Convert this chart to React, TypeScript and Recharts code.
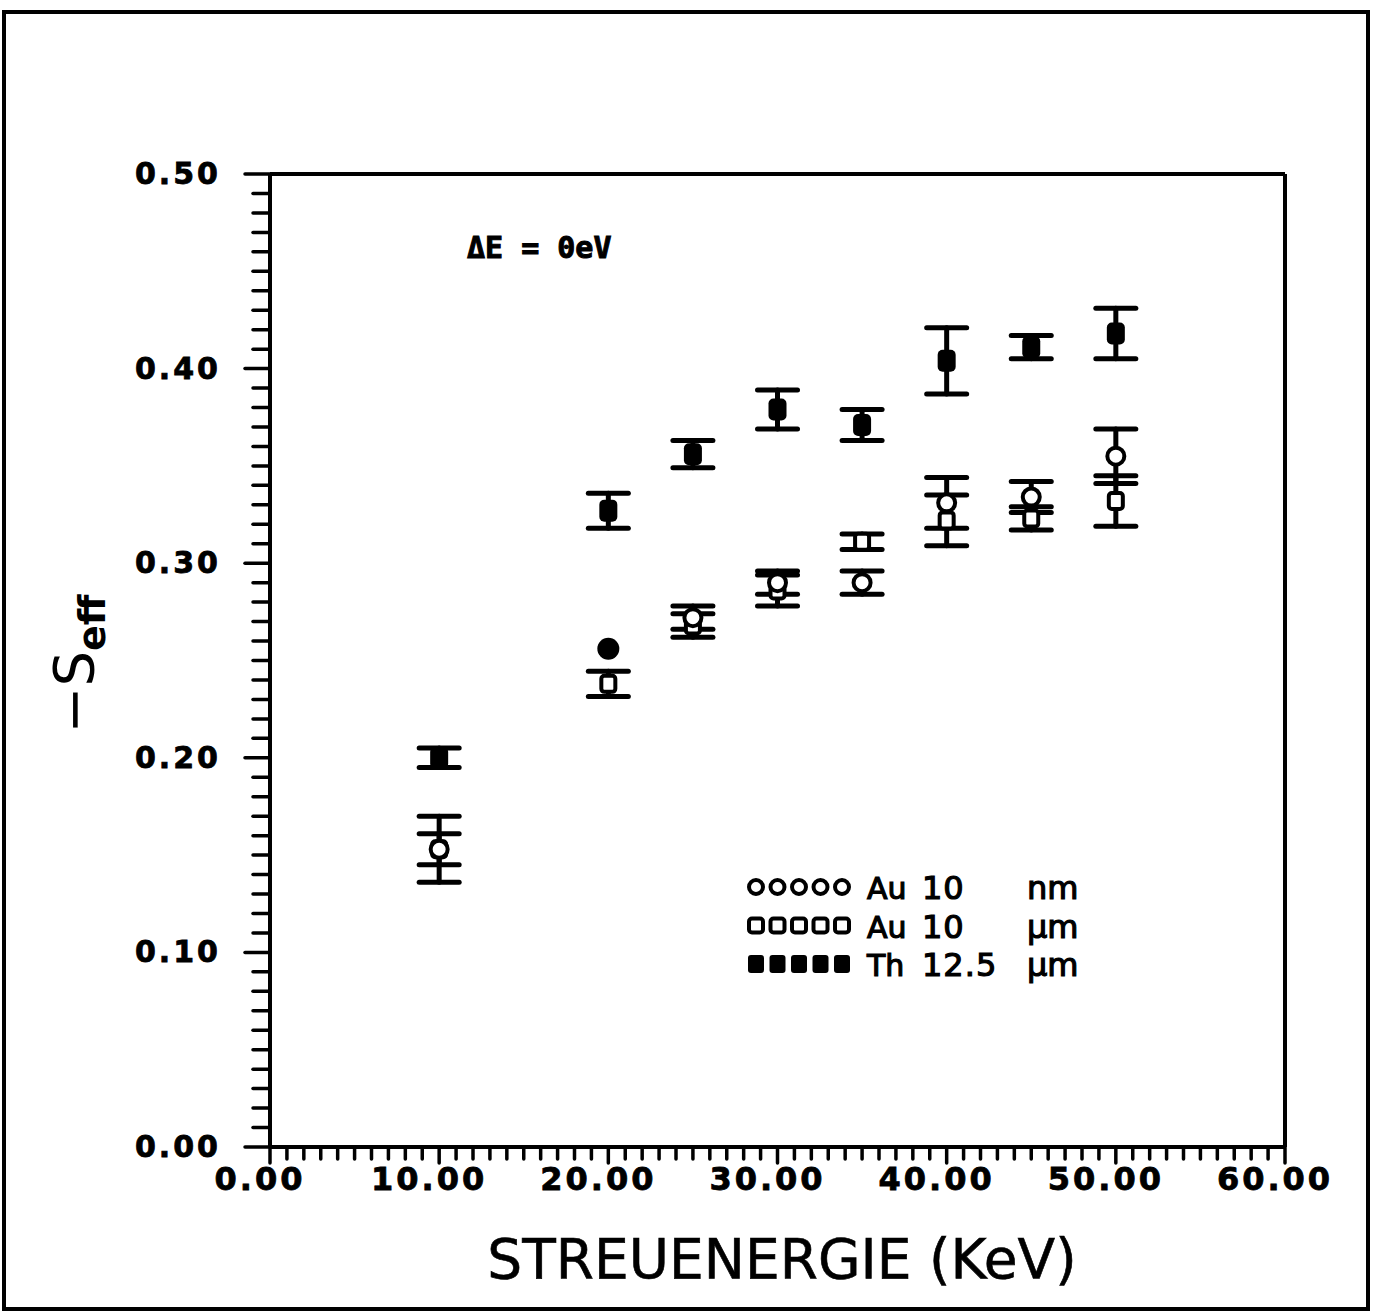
import React from 'react';
import { ScatterChart, Scatter, XAxis, YAxis, ErrorBar, ReferenceLine } from 'recharts';

// --- data ---
const energies = [10, 20, 25, 30, 35, 40, 45, 50];
const thValues = [0.2, 0.327, 0.356, 0.379, 0.371, 0.404, 0.411, 0.418];
const thErrors = [0.005, 0.009, 0.007, 0.010, 0.008, 0.017, 0.006, 0.013];
const auNmValues = [0.153, 0.256, 0.272, 0.29, 0.29, 0.331, 0.334, 0.355];
const auNmErrors = [0.017, null, 0.006, 0.006, 0.006, 0.013, 0.008, 0.014];
const auUmValues = [0.153, 0.238, 0.268, 0.286, 0.311, 0.322, 0.323, 0.332];
const auUmErrors = [0.008, 0.0065, 0.006, 0.008, 0.004, 0.013, 0.006, 0.013];

const xMajorTicks = [0, 10, 20, 30, 40, 50, 60];
const yMajorTicks = [0, 0.1, 0.2, 0.3, 0.4, 0.5];
const xMinorStep = 1;
const yMinorStep = 0.01;

const legendItems = [
  { symbol: 'circle', name: 'Au', value: '10', unit: 'nm' },
  { symbol: 'square', name: 'Au', value: '10', unit: 'μm' },
  { symbol: 'filled', name: 'Th', value: '12.5', unit: 'μm' },
];

const build = (vals: number[], errs: (number | null)[]) =>
  energies.map((x, i) => ({ x, y: vals[i], err: errs[i] }));

const thData = build(thValues, thErrors);
const auNmAll = build(auNmValues, auNmErrors);
const auNmData = auNmAll.filter((d) => d.err != null);
const auNmNoErr = auNmAll.filter((d) => d.err == null);
const auUmData = build(auUmValues, auUmErrors);

const xTicks: number[] = [];
for (let i = 0; i <= 60 / xMinorStep; i++) xTicks.push(i * xMinorStep);
const yTicks: number[] = [];
for (let i = 0; i <= Math.round(0.5 / yMinorStep); i++) yTicks.push(Math.round(i * yMinorStep * 100) / 100);

// --- layout ---
const W = 1379;
const H = 1315;
const PLOT_L = 270;
const PLOT_R = 1285;
const PLOT_T = 174;
const PLOT_B = 1147;
const FONT = '"DejaVu Sans", sans-serif';

const isXMajor = (v: number) => xMajorTicks.some((t) => Math.abs(t - v) < 1e-6);
const isYMajor = (v: number) => yMajorTicks.some((t) => Math.abs(t - v) < 1e-6);

const XTick = (props: any) => {
  const { x, payload } = props;
  const y = PLOT_B;
  const v = payload.value;
  const major = isXMajor(v);
  return (
    <g>
      <line x1={x} x2={x} y1={y} y2={y + (major ? 16 : 12)} stroke="#000" strokeWidth={3.5} strokeLinecap="round" />
      {major && (
        <text x={x - 10} y={y + 43} textAnchor="middle" fontFamily={FONT} fontWeight="bold" fontSize={32} letterSpacing={3} fill="#000" stroke="#000" strokeWidth={0.8}>
          {v.toFixed(2)}
        </text>
      )}
    </g>
  );
};

const YTick = (props: any) => {
  const { y, payload } = props;
  const x = PLOT_L;
  const v = payload.value;
  const major = isYMajor(v);
  return (
    <g>
      <line x1={x} x2={x - (major ? 25 : 17)} y1={y} y2={y} stroke="#000" strokeWidth={3.5} strokeLinecap="round" />
      {major && (
        <text x={x - 49} y={y + 10} textAnchor="end" fontFamily={FONT} fontWeight="bold" fontSize={30} letterSpacing={3} fill="#000" stroke="#000" strokeWidth={0.8}>
          {v.toFixed(2)}
        </text>
      )}
    </g>
  );
};

const FilledSquare = (props: any) => {
  const { cx, cy } = props;
  return <rect x={cx - 9} y={cy - 11} width={18} height={22} rx={5} fill="#000" />;
};
const OpenCircle = (props: any) => {
  const { cx, cy } = props;
  return <circle cx={cx} cy={cy} r={8.5} fill="#fff" stroke="#000" strokeWidth={4} />;
};
const BigCircle = (props: any) => {
  const { cx, cy } = props;
  return <circle cx={cx} cy={cy} r={11} fill="#000" />;
};
const OpenSquare = (props: any) => {
  const { cx, cy } = props;
  return <rect x={cx - 7} y={cy - 8} width={14} height={16} rx={3} fill="#fff" stroke="#000" strokeWidth={4} />;
};

const XTitle = () => (
  <text x={782} y={1278} textAnchor="middle" fontFamily={FONT} fontSize={55} fill="#000" stroke="#000" strokeWidth={0.6}>
    STREUENERGIE (KeV)
  </text>
);

const YTitle = () => (
  <text transform="translate(93,664) rotate(-90)" textAnchor="middle" fontFamily={FONT} fill="#000">
    <tspan fontSize={56}>−S</tspan>
    <tspan fontSize={38} fontWeight="bold" dy={12}>eff</tspan>
  </text>
);

const LegendSymbol = ({ kind }: { kind: string }) => {
  const items = [0, 1, 2, 3, 4];
  return (
    <g>
      {items.map((i) => {
        const cx = 756 + i * 21.5;
        if (kind === 'circle') return <circle key={i} cx={cx} cy={0} r={7} fill="none" stroke="#000" strokeWidth={4} />;
        if (kind === 'square') return <rect key={i} x={cx - 7} y={-7} width={14} height={14} rx={3} fill="none" stroke="#000" strokeWidth={4} />;
        return <rect key={i} x={cx - 8} y={-9} width={16} height={18} rx={3} fill="#000" />;
      })}
    </g>
  );
};

export default function App() {
  return (
    <div style={{ position: 'absolute', left: 0, top: 0, width: W, height: H, background: '#fff' }}>
      <ScatterChart
        width={W}
        height={H}
        margin={{ top: PLOT_T, left: PLOT_L - 2, right: W - PLOT_R, bottom: H - PLOT_B - 2 }}
      >
        <XAxis
          type="number"
          dataKey="x"
          domain={[0, 60]}
          ticks={xTicks}
          interval={0}
          height={2}
          tickSize={0}
          tickMargin={0}
          tickLine={false}
          tick={<XTick />}
          axisLine={{ stroke: '#000', strokeWidth: 4 }}
          label={<XTitle />}
          allowDataOverflow
        />
        <YAxis
          type="number"
          dataKey="y"
          domain={[0, 0.5]}
          ticks={yTicks}
          interval={0}
          width={2}
          tickSize={0}
          tickMargin={0}
          tickLine={false}
          tick={<YTick />}
          axisLine={{ stroke: '#000', strokeWidth: 4 }}
          label={<YTitle />}
          allowDataOverflow
        />
        <ReferenceLine y={0} stroke="#000" strokeWidth={4} />
        <ReferenceLine x={0} stroke="#000" strokeWidth={4} />
        <ReferenceLine y={0.5} stroke="#000" strokeWidth={4} />
        <ReferenceLine x={60} stroke="#000" strokeWidth={4} />
        <Scatter data={auUmData} shape={<OpenSquare />} isAnimationActive={false}>
          <ErrorBar dataKey="err" direction="y" width={20} stroke="#000" strokeWidth={5} strokeLinecap="round" />
        </Scatter>
        <Scatter data={auNmData} shape={<OpenCircle />} isAnimationActive={false}>
          <ErrorBar dataKey="err" direction="y" width={20} stroke="#000" strokeWidth={5} strokeLinecap="round" />
        </Scatter>
        <Scatter data={auNmNoErr} shape={<BigCircle />} isAnimationActive={false} />
        <Scatter data={thData} shape={<FilledSquare />} isAnimationActive={false}>
          <ErrorBar dataKey="err" direction="y" width={20} stroke="#000" strokeWidth={5} strokeLinecap="round" />
        </Scatter>
      </ScatterChart>
      <svg width={W} height={H} style={{ position: 'absolute', left: 0, top: 0, pointerEvents: 'none' }}>
        <rect x={4} y={12} width={1364} height={1297} fill="none" stroke="#000" strokeWidth={4} />
        <text x={467} y={258} fontFamily='"DejaVu Sans Mono", monospace' fontWeight="bold" fontSize={30} fill="#000" stroke="#000" strokeWidth={1}>
          ΔE = 0eV
        </text>
        {legendItems.map((it, i) => {
          const base = 899 + i * 38.5;
          return (
            <g key={i}>
              <g transform={`translate(0, ${base - 12})`}>
                <LegendSymbol kind={it.symbol} />
              </g>
              <text x={867} y={base} fontFamily={FONT} fontSize={30} fill="#000" stroke="#000" strokeWidth={1.2}>{it.name}</text>
              <text x={922} y={base} fontFamily={FONT} fontSize={32} letterSpacing={1} fill="#000" stroke="#000" strokeWidth={1.2}>{it.value}</text>
              <text x={1027} y={base} fontFamily={FONT} fontSize={32} fill="#000" stroke="#000" strokeWidth={1.2}>{it.unit}</text>
            </g>
          );
        })}
      </svg>
    </div>
  );
}
